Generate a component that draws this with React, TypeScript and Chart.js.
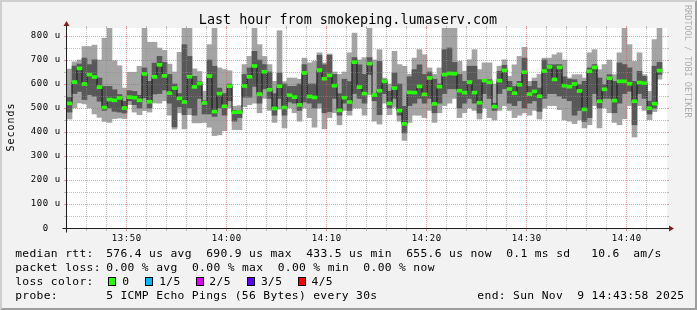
import { useEffect, useRef } from 'react';
import { Chart, registerables } from 'chart.js';

Chart.register(...registerables);

// ---------- data (microseconds) ----------
const TITLE = 'Last hour from smokeping.lumaserv.com';
const Y_LABEL = 'Seconds';
const WATERMARK = 'RRDTOOL / TOBI OETIKER';

// sorted pings per 30 s step: min, 2nd, median, 4th, max
const PING_MIN: (number | null)[] = [
  454, 500, 521, 517, 500, 475, 461, 444, 440, 456,
  458, 456, 514, 483, 472, 489, 483, 521, 520, 530,
  470, 412, 480, 413, 472, 438, 438, 440, 420, 385,
  388, 405, 500, 410, 410, 505, 514, 520, 480, 540,
  490, 440, 495, 417, 500, 480, 445, 500, 460, 420,
  500, 413, 460, 480, 430, 490, 470, 500, 500, 470,
  555, 445, 433, 520, 472, 503, 445, 365, 440, 470,
  470, 460, 490, 440, 480, 510, 520, 540, 460, 480,
  500, 490, 454, 500, 460, 450, 490, 510, 490, 460,
  470, 480, 470, 490, 454, 500, 510, 510, 493, 450,
  445, 435, 450, 417, 430, 510, 417, 500, 480, 440,
  430, 455, 510, 379, 510, 490, 451, 485, 620, null,
];
const PING_LOW: (number | null)[] = [
  483, 560, 569, 535, 556, 549, 528, 490, 500, 486,
  483, 479, 530, 514, 500, 542, 500, 558, 560, 575,
  520, 421, 505, 472, 500, 470, 540, 475, 475, 465,
  500, 470, 530, 445, 460, 545, 545, 590, 520, 580,
  540, 470, 540, 470, 525, 520, 490, 525, 520, 500,
  520, 480, 485, 540, 470, 520, 490, 560, 540, 520,
  640, 530, 472, 560, 500, 540, 470, 396, 510, 520,
  540, 520, 540, 480, 520, 560, 580, 580, 500, 520,
  540, 520, 479, 560, 540, 490, 560, 580, 520, 510,
  530, 500, 520, 530, 486, 540, 560, 560, 550, 540,
  530, 470, 490, 444, 460, 560, 500, 540, 540, 480,
  520, 560, 570, 430, 560, 540, 475, 500, 640, null,
];
const MEDIAN: (number | null)[] = [
  519, 608, 665, 600, 639, 629, 587, 502, 535, 532,
  542, 500, 545, 543, 532, 642, 526, 630, 680, 634,
  562, 583, 540, 525, 630, 588, 602, 521, 633, 485,
  560, 507, 591, 482, 483, 592, 630, 675, 558, 651,
  576, 498, 591, 502, 553, 545, 513, 646, 548, 544,
  658, 622, 636, 593, 490, 543, 525, 691, 587, 560,
  685, 554, 572, 611, 519, 583, 489, 434, 565, 564,
  590, 557, 625, 517, 589, 639, 644, 643, 572, 564,
  608, 564, 522, 614, 607, 506, 614, 657, 579, 562,
  597, 649, 558, 569, 549, 654, 671, 619, 669, 593,
  589, 600, 571, 494, 653, 669, 528, 578, 624, 531,
  611, 611, 601, 528, 606, 603, 499, 518, 656, null,
];
const PING_HIGH: (number | null)[] = [
  544, 675, 683, 708, 681, 701, 625, 590, 590, 576,
  556, 528, 572, 569, 553, 667, 611, 687, 715, 690,
  640, 600, 560, 764, 715, 632, 610, 530, 700, 674,
  583, 560, 600, 490, 488, 640, 667, 736, 700, 681,
  650, 560, 646, 600, 590, 590, 600, 681, 600, 600,
  720, 680, 720, 640, 560, 620, 610, 710, 680, 640,
  710, 560, 694, 618, 570, 646, 600, 507, 630, 660,
  680, 640, 650, 620, 600, 743, 750, 690, 640, 611,
  674, 674, 618, 618, 618, 520, 653, 678, 611, 590,
  611, 708, 590, 611, 583, 700, 680, 680, 681, 630,
  620, 618, 597, 611, 667, 681, 625, 597, 639, 611,
  688, 681, 667, 611, 653, 632, 528, 674, 690, null,
];
const PING_MAX: (number | null)[] = [
  662, 692, 700, 756, 756, 762, 700, 791, 835, 697,
  676, 583, 649, 649, 674, 835, 774, 774, 750, 740,
  683, 650, 732, 835, 835, 663, 652, 570, 764, 835,
  667, 660, 655, 507, 510, 681, 715, 835, 764, 715,
  681, 611, 822, 610, 625, 625, 620, 708, 688, 694,
  730, 688, 725, 650, 640, 650, 730, 812, 700, 710,
  835, 700, 743, 625, 600, 736, 681, 674, 640, 708,
  743, 722, 667, 640, 667, 835, 835, 835, 694, 653,
  701, 743, 660, 688, 688, 600, 674, 701, 632, 680,
  715, 753, 611, 625, 640, 708, 708, 722, 730, 700,
  625, 639, 639, 625, 730, 743, 660, 681, 700, 639,
  730, 835, 764, 694, 730, 639, 569, 785, 835, null,
];

const Y_MAX = 833.3;
const Y_TICKS = [0, 100, 200, 300, 400, 500, 600, 700, 800];
const Y_TICK_LABELS = ['0  ', '100 u', '200 u', '300 u', '400 u', '500 u', '600 u', '700 u', '800 u'];
// x in 30 s steps from 13:44:00
const X_STEPS = 120;
const X_TICKS = [12, 32, 52, 72, 92, 112];
const X_TICK_LABELS = ['13:50', '14:00', '14:10', '14:20', '14:30', '14:40'];

const LEGEND_MEDIAN_HEAD = 'median rtt:';
const LEGEND_MEDIAN = ['576.4 us avg', '690.9 us max', '433.5 us min', '655.6 us now', '0.1 ms sd', '10.6', 'am/s'];
const LEGEND_LOSS_HEAD = 'packet loss:';
const LEGEND_LOSS = ['0.00 % avg', '0.00 % max', '0.00 % min', '0.00 % now'];
const LEGEND_COLOR_HEAD = 'loss color:';
const LOSS_LABELS = ['0', '1/5', '2/5', '3/5', '4/5'];
const LOSS_COLORS = ['#26ff00', '#00b8ff', '#dd00ff', '#5e00ff', '#ff0000'];
const LEGEND_PROBE_HEAD = 'probe:';
const PROBE_TEXT = '5 ICMP Echo Pings (56 Bytes) every 30s';
const END_TEXT = 'end: Sun Nov  9 14:43:58 2025';

// ---------- layout / style ----------
const W = 697;
const H = 310;
const FONT = '"DejaVu Sans Mono", monospace';
const GRID = 'rgba(143,143,143,0.55)';
const MGRID = 'rgba(222,79,79,0.55)';
const MEDIAN_HALF = 6.25;
const LEG_ADV = 7.14;
const HEAD_X = 15;
const MEDIAN_X = [106, 206, 306, 406, 506, 591, 633];
const LOSS_X = [106, 191.8, 277.5, 363.2];
const BOX_X = [108, 145, 196, 247, 298];
const BOX_LABEL_X = [122.1, 159, 209.2, 260.8, 311.4];
const PROBE_X = 106;
const END_X = 477.2;

function spaced(ctx: CanvasRenderingContext2D, text: string, x: number, y: number, adv: number) {
  const nat = ctx.measureText('0').width;
  for (let i = 0; i < text.length; i++) {
    ctx.fillText(text[i], x + i * adv + (adv - nat) / 2, y);
  }
}

const rrdPlugin = {
  id: 'rrdLook',
  beforeDraw(chart: any) {
    const { ctx, chartArea: ca } = chart;
    ctx.save();
    ctx.fillStyle = '#f2f2f2';
    ctx.fillRect(0, 0, W, H);
    ctx.fillStyle = '#cfcfcf';
    ctx.beginPath();
    ctx.moveTo(0, H); ctx.lineTo(2, H - 2); ctx.lineTo(2, 2); ctx.lineTo(W - 2, 2); ctx.lineTo(W, 0); ctx.lineTo(0, 0);
    ctx.closePath(); ctx.fill();
    ctx.fillStyle = '#9e9e9e';
    ctx.beginPath();
    ctx.moveTo(2, H - 2); ctx.lineTo(W - 2, H - 2); ctx.lineTo(W - 2, 2); ctx.lineTo(W, 0); ctx.lineTo(W, H); ctx.lineTo(0, H);
    ctx.closePath(); ctx.fill();
    ctx.fillStyle = '#ffffff';
    ctx.fillRect(ca.left, ca.top, ca.right - ca.left, ca.bottom - ca.top);
    ctx.restore();
  },
  afterDatasetsDraw(chart: any) {
    const { ctx, chartArea: ca } = chart;
    const xs = chart.scales.x;
    const ys = chart.scales.y;
    ctx.save();
    ctx.lineWidth = 1;
    for (let v = 50; v <= 800; v += 50) {
      const py = Math.round(ys.getPixelForValue(v)) + 0.5;
      ctx.strokeStyle = v % 100 === 0 ? MGRID : GRID;
      ctx.setLineDash([]);
      ctx.beginPath();
      ctx.moveTo(ca.left - 3, py); ctx.lineTo(ca.left - 1, py);
      ctx.moveTo(ca.right, py); ctx.lineTo(ca.right + 2, py);
      ctx.stroke();
      ctx.setLineDash([1, 1]);
      ctx.beginPath();
      ctx.moveTo(ca.left, py); ctx.lineTo(ca.right, py);
      ctx.stroke();
    }
    for (let v = 4; v < X_STEPS; v += 4) {
      const px = Math.round(xs.getPixelForValue(v)) - 0.5;
      ctx.strokeStyle = X_TICKS.includes(v) ? MGRID : GRID;
      ctx.setLineDash([]);
      ctx.beginPath();
      ctx.moveTo(px, ca.bottom + 1); ctx.lineTo(px, ca.bottom + 3);
      ctx.moveTo(px, ca.top - 2); ctx.lineTo(px, ca.top);
      ctx.stroke();
      ctx.setLineDash([1, 1]);
      ctx.beginPath();
      ctx.moveTo(px, ca.top); ctx.lineTo(px, ca.bottom);
      ctx.stroke();
    }
    ctx.setLineDash([]);
    const yo = Math.round(ys.getPixelForValue(0)) + 0.5;
    const xo = Math.round(xs.getPixelForValue(0)) - 0.5;
    ctx.strokeStyle = '#1f1f1f';
    ctx.beginPath();
    ctx.moveTo(xo - 4, yo); ctx.lineTo(ca.right + 4, yo);
    ctx.moveTo(xo, yo + 4); ctx.lineTo(xo, ca.top - 4);
    ctx.stroke();
    ctx.fillStyle = '#801f1f';
    ctx.beginPath();
    ctx.moveTo(ca.right + 2, yo - 3); ctx.lineTo(ca.right + 2, yo + 3); ctx.lineTo(ca.right + 7, yo);
    ctx.closePath(); ctx.fill();
    ctx.beginPath();
    ctx.moveTo(xo - 3, ca.top - 2); ctx.lineTo(xo + 3, ca.top - 2); ctx.lineTo(xo, ca.top - 7);
    ctx.closePath(); ctx.fill();
    ctx.restore();
  },
  afterDraw(chart: any) {
    const { ctx } = chart;
    const xs = chart.scales.x;
    const ys = chart.scales.y;
    ctx.save();
    ctx.fillStyle = '#000';
    ctx.textBaseline = 'alphabetic';
    ctx.font = `13.4px ${FONT}`;
    ctx.textAlign = 'center';
    ctx.fillText(TITLE, 348, 24);
    ctx.textAlign = 'left';
    ctx.font = `9px ${FONT}`;
    Y_TICKS.forEach((v, i) => {
      const lab = Y_TICK_LABELS[i];
      const py = ys.getPixelForValue(v);
      spaced(ctx, lab, 60.5 - lab.length * 6, py + 2.5, 6);
    });
    X_TICKS.forEach((v, i) => {
      const lab = X_TICK_LABELS[i];
      const px = Math.round(xs.getPixelForValue(v)) - 0.5;
      spaced(ctx, lab, px - (lab.length * 6) / 2, 240.8, 6);
    });
    ctx.save();
    ctx.font = `10px ${FONT}`;
    ctx.translate(14, 127.4);
    ctx.rotate(-Math.PI / 2);
    spaced(ctx, Y_LABEL, -(Y_LABEL.length * 7) / 2, 0, 7);
    ctx.restore();
    ctx.save();
    ctx.font = `8.5px ${FONT}`;
    ctx.fillStyle = 'rgba(0,0,0,0.3)';
    ctx.translate(684.5, 5);
    ctx.rotate(Math.PI / 2);
    ctx.fillText(WATERMARK, 0, 0);
    ctx.restore();
    // legend
    ctx.font = `11.3px ${FONT}`;
    ctx.fillStyle = '#000';
    const L1 = 257.3, L2 = 271.0, L3 = 284.9, L4 = 298.7;
    spaced(ctx, LEGEND_MEDIAN_HEAD, HEAD_X, L1, LEG_ADV);
    LEGEND_MEDIAN.forEach((t, i) => spaced(ctx, t, MEDIAN_X[i], L1, LEG_ADV));
    spaced(ctx, LEGEND_LOSS_HEAD, HEAD_X, L2, LEG_ADV);
    LEGEND_LOSS.forEach((t, i) => spaced(ctx, t, LOSS_X[i], L2, LEG_ADV));
    spaced(ctx, LEGEND_COLOR_HEAD, HEAD_X, L3, LEG_ADV);
    LOSS_LABELS.forEach((t, i) => {
      ctx.fillStyle = LOSS_COLORS[i];
      ctx.fillRect(BOX_X[i], 277, 8, 9);
      ctx.strokeStyle = '#000';
      ctx.lineWidth = 1;
      ctx.strokeRect(BOX_X[i] + 0.5, 277.5, 7, 8);
      ctx.fillStyle = '#000';
      spaced(ctx, t, BOX_LABEL_X[i], L3, LEG_ADV);
    });
    spaced(ctx, LEGEND_PROBE_HEAD, HEAD_X, L4, LEG_ADV);
    spaced(ctx, PROBE_TEXT, PROBE_X, L4, LEG_ADV);
    spaced(ctx, END_TEXT, END_X, L4, LEG_ADV);
    ctx.restore();
  },
};

export default function App() {
  const ref = useRef<HTMLCanvasElement>(null);
  useEffect(() => {
    const canvas = ref.current;
    if (!canvas) return;
    const idx = MEDIAN.map((_, i) => i).filter((i) => MEDIAN[i] != null);
    const range = (lo: (number | null)[], hi: (number | null)[]) =>
      idx.map((i) => ({ x: i + 0.5, y: [lo[i] as number, hi[i] as number] }));
    const barOpts = {
      type: 'bar' as const,
      grouped: false,
      barPercentage: 1,
      categoryPercentage: 1,
      borderWidth: 0,
      clip: 0,
    };
    const chart = new Chart(canvas, {
      type: 'bar',
      data: {
        datasets: [
          { ...barOpts, label: 'outer smoke', data: range(PING_MIN, PING_MAX) as any, backgroundColor: '#a4a4a4', order: 4 },
          { ...barOpts, label: 'inner smoke', data: range(PING_LOW, PING_HIGH) as any, backgroundColor: '#585858', order: 3 },
          {
            type: 'line',
            label: 'median line',
            data: idx.map((i) => ({ x: i + 0.5, y: MEDIAN[i] as number })) as any,
            borderColor: '#141414',
            borderWidth: 1,
            pointRadius: 0,
            stepped: 'middle',
            order: 2,
            clip: 0,
          } as any,
          {
            ...barOpts,
            label: 'median rtt',
            data: idx.map((i) => ({ x: i + 0.5, y: [(MEDIAN[i] as number) - MEDIAN_HALF, (MEDIAN[i] as number) + MEDIAN_HALF] })) as any,
            backgroundColor: LOSS_COLORS[0],
            order: 1,
          },
        ],
      },
      options: {
        responsive: false,
        animation: false,
        events: [],
        layout: { padding: { left: 67, top: 28, right: 30, bottom: 82 } },
        plugins: { legend: { display: false }, tooltip: { enabled: false }, title: { display: false } },
        scales: {
          x: { type: 'linear', min: 0, max: X_STEPS, display: false, offset: false, ticks: { stepSize: 4 } },
          y: { type: 'linear', min: 0, max: Y_MAX, display: false },
        },
      },
      plugins: [rrdPlugin],
    } as any);
    return () => chart.destroy();
  }, []);
  return (
    <div style={{ position: 'absolute', left: 0, top: 0, width: W, height: H }}>
      <canvas ref={ref} width={W} height={H} style={{ display: 'block', width: W, height: H }} />
    </div>
  );
}
